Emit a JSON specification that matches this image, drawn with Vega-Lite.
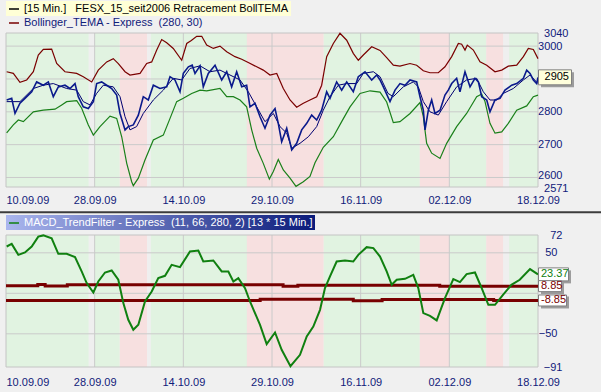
{
  "$schema": "https://vega.github.io/schema/vega-lite/v6.json",
  "width": 532,
  "height": 334,
  "autosize": {"type": "none"},
  "padding": {"left": 6, "top": 33, "right": 63, "bottom": 25},
  "background": "#F0F0F0",
  "config": {
    "font": "Liberation Sans",
    "view": {"stroke": null},
    "axis": {"labelFont": "Liberation Sans", "labelFontSize": 11, "labelColor": "#10207A", "domain": false, "ticks": false, "grid": false, "labelOverlap": false, "labelBound": false, "labelFlush": false}
  },
  "datasets": {
    "bands": [
      {"t0": 0, "t1": 11.2, "s": "up"}, {"t0": 11.2, "t1": 12.0, "s": "flat"}, {"t0": 12.0, "t1": 15.4, "s": "up"},
      {"t0": 15.4, "t1": 19.1, "s": "down"}, {"t0": 19.1, "t1": 19.6, "s": "flat"}, {"t0": 19.6, "t1": 32.6, "s": "up"},
      {"t0": 32.6, "t1": 43.0, "s": "down"}, {"t0": 43.0, "t1": 56.0, "s": "up"}, {"t0": 56.0, "t1": 60.0, "s": "down"},
      {"t0": 60.0, "t1": 65.0, "s": "up"}, {"t0": 65.0, "t1": 67.3, "s": "down"}, {"t0": 67.3, "t1": 68.1, "s": "flat"},
      {"t0": 68.1, "t1": 72, "s": "up"}
    ],
    "vgrid": [{"t": 12}, {"t": 24}, {"t": 36}, {"t": 48}, {"t": 60}],
    "hgt": [{"v": 2600}, {"v": 2700}, {"v": 2800}, {"v": 2900}, {"v": 3000}],
    "hgb": [{"v": 50}, {"v": 0}, {"v": -50}],
    "upper": [
      {"t":0.09,"v":2922},{"t":0.99,"v":2917},{"t":1.89,"v":2890},{"t":2.8,"v":2897},{"t":3.7,"v":2922},{"t":4.37,"v":2973},{"t":5.05,"v":2990},{"t":6.18,"v":2991},{"t":6.86,"v":2947},{"t":7.98,"v":2922},{"t":9.57,"v":2917},{"t":10.46,"v":2907},{"t":11.6,"v":2891},{"t":12.49,"v":2927},{"t":13.63,"v":2952},{"t":14.52,"v":2962},{"t":15.2,"v":2947},{"t":16.11,"v":2922},{"t":16.78,"v":2912},{"t":18.14,"v":2917},{"t":19.04,"v":2947},{"t":19.72,"v":2952},{"t":20.4,"v":2988},{"t":21.07,"v":3020},{"t":21.75,"v":3010},{"t":22.64,"v":2993},{"t":23.78,"v":2957},{"t":24.46,"v":3008},{"t":25.08,"v":3017},{"t":25.81,"v":3030},{"t":26.49,"v":3030},{"t":27.16,"v":3003},{"t":28.06,"v":2993},{"t":28.96,"v":3000},{"t":29.87,"v":2983},{"t":30.99,"v":2968},{"t":31.9,"v":2960},{"t":32.79,"v":2950},{"t":33.93,"v":2937},{"t":34.82,"v":2927},{"t":35.73,"v":2912},{"t":36.64,"v":2917},{"t":37.53,"v":2871},{"t":38.44,"v":2836},{"t":39.34,"v":2814},{"t":40.24,"v":2826},{"t":41.14,"v":2836},{"t":42.05,"v":2846},{"t":42.72,"v":2881},{"t":43.4,"v":2968},{"t":44.3,"v":3008},{"t":45.2,"v":3039},{"t":46.11,"v":3018},{"t":47.0,"v":2978},{"t":47.68,"v":2957},{"t":48.36,"v":2973},{"t":49.49,"v":2998},{"t":50.62,"v":2987},{"t":51.52,"v":2965},{"t":52.42,"v":2942},{"t":53.32,"v":2939},{"t":54.68,"v":2947},{"t":55.58,"v":2942},{"t":56.48,"v":2925},{"t":57.38,"v":2919},{"t":58.51,"v":2919},{"t":59.41,"v":2937},{"t":60.32,"v":2968},{"t":61.22,"v":3008},{"t":61.67,"v":3006},{"t":62.12,"v":2988},{"t":62.43,"v":3003},{"t":63.25,"v":2988},{"t":64.15,"v":2952},{"t":65.06,"v":2942},{"t":66.18,"v":2922},{"t":67.09,"v":2927},{"t":67.98,"v":2939},{"t":69.12,"v":2942},{"t":70.02,"v":2968},{"t":70.69,"v":2993},{"t":71.37,"v":2990},{"t":72,"v":2962}
    ],
    "lower": [
      {"t":0.09,"v":2736},{"t":0.99,"v":2760},{"t":1.67,"v":2775},{"t":2.35,"v":2770},{"t":3.7,"v":2800},{"t":5.05,"v":2805},{"t":6.63,"v":2808},{"t":7.54,"v":2821},{"t":8.21,"v":2831},{"t":9.57,"v":2834},{"t":10.24,"v":2811},{"t":11.14,"v":2760},{"t":11.82,"v":2729},{"t":12.72,"v":2755},{"t":14.08,"v":2787},{"t":14.98,"v":2780},{"t":15.66,"v":2724},{"t":16.34,"v":2643},{"t":17.01,"v":2587},{"t":17.23,"v":2575},{"t":17.91,"v":2598},{"t":18.81,"v":2653},{"t":19.94,"v":2714},{"t":21.29,"v":2729},{"t":22.2,"v":2780},{"t":23.1,"v":2831},{"t":24.0,"v":2841},{"t":25.13,"v":2856},{"t":26.26,"v":2866},{"t":27.16,"v":2864},{"t":28.96,"v":2871},{"t":29.87,"v":2846},{"t":30.77,"v":2846},{"t":31.67,"v":2836},{"t":32.57,"v":2815},{"t":33.25,"v":2745},{"t":33.93,"v":2689},{"t":34.82,"v":2643},{"t":35.64,"v":2595},{"t":36.18,"v":2618},{"t":36.85,"v":2655},{"t":37.53,"v":2623},{"t":38.44,"v":2598},{"t":39.25,"v":2573},{"t":40.24,"v":2587},{"t":41.14,"v":2603},{"t":41.82,"v":2645},{"t":42.94,"v":2692},{"t":44.3,"v":2724},{"t":45.43,"v":2770},{"t":46.56,"v":2815},{"t":47.91,"v":2856},{"t":49.27,"v":2864},{"t":50.62,"v":2860},{"t":51.52,"v":2830},{"t":52.42,"v":2767},{"t":53.32,"v":2770},{"t":54.68,"v":2795},{"t":56.03,"v":2828},{"t":56.48,"v":2785},{"t":56.93,"v":2704},{"t":57.61,"v":2674},{"t":58.74,"v":2658},{"t":59.64,"v":2704},{"t":60.99,"v":2755},{"t":62.34,"v":2795},{"t":63.7,"v":2846},{"t":64.38,"v":2854},{"t":64.83,"v":2831},{"t":65.5,"v":2765},{"t":66.18,"v":2735},{"t":67.09,"v":2739},{"t":67.98,"v":2765},{"t":69.12,"v":2805},{"t":70.47,"v":2818},{"t":71.37,"v":2846},{"t":72,"v":2851}
    ],
    "price": [
      {"t":0.09,"v":2836},{"t":0.77,"v":2841},{"t":1.22,"v":2795},{"t":1.89,"v":2826},{"t":2.57,"v":2841},{"t":3.48,"v":2861},{"t":4.15,"v":2891},{"t":5.05,"v":2881},{"t":5.73,"v":2891},{"t":6.4,"v":2846},{"t":7.08,"v":2876},{"t":7.98,"v":2881},{"t":8.66,"v":2871},{"t":9.34,"v":2886},{"t":9.78,"v":2846},{"t":10.46,"v":2815},{"t":11.14,"v":2810},{"t":11.82,"v":2831},{"t":12.27,"v":2886},{"t":12.95,"v":2891},{"t":13.63,"v":2881},{"t":14.3,"v":2871},{"t":14.98,"v":2851},{"t":15.43,"v":2795},{"t":16.11,"v":2745},{"t":16.55,"v":2755},{"t":17.23,"v":2760},{"t":17.91,"v":2790},{"t":18.58,"v":2846},{"t":19.26,"v":2836},{"t":19.94,"v":2881},{"t":20.84,"v":2871},{"t":21.75,"v":2876},{"t":22.2,"v":2907},{"t":22.87,"v":2897},{"t":23.55,"v":2861},{"t":24.0,"v":2917},{"t":24.68,"v":2937},{"t":25.2,"v":2942},{"t":25.58,"v":2917},{"t":26.26,"v":2940},{"t":26.7,"v":2876},{"t":27.38,"v":2917},{"t":28.29,"v":2942},{"t":29.19,"v":2897},{"t":29.87,"v":2922},{"t":30.54,"v":2876},{"t":31.22,"v":2922},{"t":31.9,"v":2876},{"t":32.57,"v":2881},{"t":33.02,"v":2815},{"t":33.7,"v":2826},{"t":34.38,"v":2785},{"t":35.05,"v":2750},{"t":35.73,"v":2790},{"t":36.41,"v":2810},{"t":36.85,"v":2765},{"t":37.31,"v":2709},{"t":37.99,"v":2750},{"t":38.67,"v":2684},{"t":39.34,"v":2704},{"t":40.02,"v":2745},{"t":40.7,"v":2765},{"t":41.37,"v":2790},{"t":42.05,"v":2775},{"t":42.72,"v":2805},{"t":43.4,"v":2861},{"t":43.85,"v":2841},{"t":44.75,"v":2891},{"t":45.43,"v":2866},{"t":46.11,"v":2891},{"t":47.0,"v":2861},{"t":47.68,"v":2907},{"t":48.59,"v":2922},{"t":49.49,"v":2897},{"t":50.17,"v":2912},{"t":50.62,"v":2897},{"t":51.07,"v":2876},{"t":51.97,"v":2831},{"t":52.65,"v":2866},{"t":53.32,"v":2886},{"t":54.0,"v":2881},{"t":54.68,"v":2897},{"t":55.58,"v":2891},{"t":56.03,"v":2846},{"t":56.48,"v":2805},{"t":56.71,"v":2745},{"t":57.16,"v":2805},{"t":57.61,"v":2836},{"t":58.06,"v":2795},{"t":58.74,"v":2805},{"t":59.41,"v":2851},{"t":59.86,"v":2866},{"t":60.32,"v":2886},{"t":60.99,"v":2902},{"t":61.44,"v":2861},{"t":62.12,"v":2922},{"t":62.8,"v":2876},{"t":63.47,"v":2902},{"t":63.93,"v":2891},{"t":64.38,"v":2846},{"t":65.06,"v":2836},{"t":65.5,"v":2800},{"t":66.18,"v":2836},{"t":66.86,"v":2841},{"t":67.53,"v":2866},{"t":68.44,"v":2881},{"t":69.12,"v":2886},{"t":70.02,"v":2902},{"t":70.47,"v":2927},{"t":70.92,"v":2917},{"t":71.37,"v":2897},{"t":71.82,"v":2886},{"t":72,"v":2905}
    ],
    "tema": [
      {"t":0.09,"v":2831},{"t":1.89,"v":2831},{"t":3.7,"v":2871},{"t":5.05,"v":2881},{"t":6.4,"v":2886},{"t":8.21,"v":2871},{"t":9.57,"v":2866},{"t":10.46,"v":2831},{"t":11.37,"v":2821},{"t":12.27,"v":2856},{"t":13.17,"v":2881},{"t":14.52,"v":2876},{"t":15.43,"v":2846},{"t":16.11,"v":2785},{"t":16.78,"v":2745},{"t":17.68,"v":2755},{"t":18.58,"v":2795},{"t":19.94,"v":2836},{"t":21.29,"v":2866},{"t":22.64,"v":2902},{"t":23.78,"v":2897},{"t":24.9,"v":2932},{"t":26.26,"v":2940},{"t":27.61,"v":2922},{"t":28.96,"v":2927},{"t":30.32,"v":2912},{"t":31.67,"v":2897},{"t":32.79,"v":2861},{"t":33.93,"v":2815},{"t":35.05,"v":2770},{"t":36.18,"v":2795},{"t":37.08,"v":2755},{"t":37.99,"v":2735},{"t":38.67,"v":2689},{"t":39.79,"v":2704},{"t":40.92,"v":2724},{"t":42.05,"v":2755},{"t":42.94,"v":2805},{"t":43.85,"v":2846},{"t":44.98,"v":2881},{"t":46.11,"v":2886},{"t":47.46,"v":2886},{"t":48.36,"v":2917},{"t":49.72,"v":2922},{"t":50.62,"v":2907},{"t":51.7,"v":2856},{"t":52.42,"v":2846},{"t":53.77,"v":2876},{"t":55.12,"v":2891},{"t":55.8,"v":2876},{"t":56.48,"v":2831},{"t":57.38,"v":2800},{"t":58.51,"v":2790},{"t":59.64,"v":2831},{"t":60.99,"v":2876},{"t":62.34,"v":2897},{"t":63.7,"v":2902},{"t":64.6,"v":2861},{"t":65.5,"v":2836},{"t":66.4,"v":2836},{"t":67.3,"v":2856},{"t":68.66,"v":2871},{"t":70.02,"v":2897},{"t":70.92,"v":2912},{"t":72,"v":2886}
    ],
    "macd": [
      {"t":0.09,"v":57.8},{"t":0.77,"v":61},{"t":1.67,"v":47.5},{"t":2.57,"v":50.4},{"t":3.48,"v":57.8},{"t":4.37,"v":70},{"t":5.05,"v":71.5},{"t":6.18,"v":68},{"t":7.08,"v":48.8},{"t":8.21,"v":48.8},{"t":9.34,"v":44.7},{"t":10.24,"v":27},{"t":10.92,"v":12.6},{"t":11.82,"v":1},{"t":12.49,"v":14.6},{"t":13.4,"v":25.7},{"t":14.3,"v":28.2},{"t":15.2,"v":16.7},{"t":15.88,"v":-12.1},{"t":16.55,"v":-32.7},{"t":17.23,"v":-45},{"t":17.91,"v":-38.9},{"t":18.81,"v":-10.1},{"t":19.72,"v":2.2},{"t":20.61,"v":18.8},{"t":21.52,"v":21.6},{"t":22.42,"v":35.2},{"t":23.55,"v":32.3},{"t":24.9,"v":51.6},{"t":26.03,"v":52.9},{"t":26.7,"v":39.3},{"t":28.06,"v":40.5},{"t":29.19,"v":27},{"t":30.09,"v":27},{"t":30.77,"v":14.6},{"t":31.44,"v":18.8},{"t":32.35,"v":6.4},{"t":33.02,"v":-10.1},{"t":34.38,"v":-38.9},{"t":35.28,"v":-62.7},{"t":36.41,"v":-48.4},{"t":37.31,"v":-69.8},{"t":38.5,"v":-90},{"t":39.79,"v":-76},{"t":40.7,"v":-53.3},{"t":41.59,"v":-41},{"t":42.5,"v":-20.4},{"t":43.17,"v":6.4},{"t":43.85,"v":20.8},{"t":44.75,"v":39.3},{"t":45.88,"v":40.5},{"t":47.0,"v":39.3},{"t":47.68,"v":47.5},{"t":48.81,"v":57},{"t":49.72,"v":55.8},{"t":50.62,"v":45.4},{"t":51.52,"v":27},{"t":52.2,"v":10.5},{"t":52.88,"v":16.7},{"t":54.0,"v":17.9},{"t":55.12,"v":22.8},{"t":55.8,"v":6.4},{"t":56.48,"v":-24.5},{"t":57.38,"v":-27.8},{"t":58.29,"v":-33.5},{"t":59.41,"v":-5.9},{"t":60.54,"v":17.5},{"t":61.44,"v":13.8},{"t":62.34,"v":23.7},{"t":63.47,"v":25.7},{"t":64.38,"v":6.4},{"t":65.28,"v":-14.2},{"t":66.18,"v":-14.2},{"t":67.26,"v":-1.9},{"t":68.4,"v":10.5},{"t":69.53,"v":16.7},{"t":70.92,"v":29.9},{"t":72,"v":23.37}
    ],
    "thrU": [
      {"t":0,"v":9.3},{"t":4.3,"v":10.8},{"t":5.3,"v":9.0},{"t":8.3,"v":10.6},{"t":37.5,"v":8.6},{"t":39.5,"v":10.1},{"t":58.7,"v":8.85},{"t":72,"v":8.85}
    ],
    "thrL": [
      {"t":0,"v":-8.85},{"t":34.4,"v":-7.4},{"t":47.0,"v":-9.3},{"t":50.9,"v":-7.6},{"t":66.0,"v":-8.85},{"t":72,"v":-8.85}
    ]
  },
  "layer": [
    {
      "layer": [
        {
          "data": {"name": "bands"},
          "mark": "rect",
          "encoding": {
            "x": {"field": "t0", "type": "quantitative", "scale": {"domain": [0, 72], "nice": false, "zero": false},
              "axis": {"orient": "bottom", "offset": -180, "title": null, "values": [0, 12, 24, 36, 48, 60, 72],
                "labelExpr": "['10.09.09','28.09.09','14.10.09','29.10.09','16.11.09','02.12.09','18.12.09'][round(datum.value/12)]",
                "labelAlign": {"condition": {"test": "datum.value == 0", "value": "left"}, "value": "center"},
                "labelPadding": 7}},
            "x2": {"field": "t1"},
            "y": {"datum": 2571, "type": "quantitative", "scale": {"domain": [2571, 3040], "range": [154, 0], "nice": false, "zero": false},
              "axis": {"orient": "right", "title": null, "format": "d", "values": [3040, 3000, 2800, 2700, 2600, 2571], "labelAlign": "right", "labelBaseline": "middle",
                "labelOffset": {"condition": [{"test": "datum.value == 2571", "value": 1.5}, {"test": "datum.value == 2600", "value": -2}], "value": 0},
                "labelPadding": {"condition": {"test": "datum.value == 3040 || datum.value == 2571", "value": 30}, "value": 24}}},
            "y2": {"datum": 3040},
            "fill": {"field": "s", "type": "nominal", "scale": {"domain": ["up", "down", "flat"], "range": ["#E1F3E1", "#F7E0E0", "#EFEFEF"]}, "legend": null}
          }
        },
        {
          "data": {"name": "vgrid"},
          "mark": {"type": "rule", "color": "#CACACA", "strokeWidth": 1},
          "encoding": {"x": {"field": "t", "type": "quantitative", "axis": {"title": null}}, "y": {"datum": 2571, "type": "quantitative", "axis": {"title": null}}, "y2": {"datum": 3040}}
        },
        {
          "data": {"name": "hgt"},
          "mark": {"type": "rule", "color": "#CACACA", "strokeWidth": 1},
          "encoding": {"x": {"datum": 0, "type": "quantitative", "axis": {"title": null}}, "x2": {"datum": 72}, "y": {"field": "v", "type": "quantitative", "axis": {"title": null}}}
        },
        {
          "data": {"values": [{}]},
          "mark": {"type": "rect", "fill": "transparent", "stroke": "#C4C4C4", "strokeWidth": 1},
          "encoding": {"x": {"datum": 0, "type": "quantitative", "axis": {"title": null}}, "x2": {"datum": 72}, "y": {"datum": 2571, "type": "quantitative", "axis": {"title": null}}, "y2": {"datum": 3040}}
        },
        {
          "data": {"name": "upper"},
          "mark": {"type": "line", "strokeWidth": 1.2},
          "encoding": {
            "x": {"field": "t", "type": "quantitative", "axis": {"title": null}},
            "y": {"field": "v", "type": "quantitative", "axis": {"title": null}},
            "stroke": {"datum": "Bollinger_TEMA - Express\u00a0\u00a0(280, 30)", "type": "nominal", "scale": {"range": ["#7A0000"]},
              "legend": {"title": null, "orient": "none", "legendX": 0, "legendY": -18, "padding": 2, "labelColor": "#10207A", "labelFontSize": 11, "labelLimit": 500, "symbolType": "stroke", "symbolSize": 100, "symbolStrokeWidth": 1.5}}
          }
        },
        {
          "data": {"name": "lower"},
          "mark": {"type": "line", "strokeWidth": 1.2, "color": "#1A801A"},
          "encoding": {"x": {"field": "t", "type": "quantitative", "axis": {"title": null}}, "y": {"field": "v", "type": "quantitative", "axis": {"title": null}}}
        },
        {
          "data": {"name": "tema"},
          "mark": {"type": "line", "strokeWidth": 1, "color": "#000070"},
          "encoding": {"x": {"field": "t", "type": "quantitative", "axis": {"title": null}}, "y": {"field": "v", "type": "quantitative", "axis": {"title": null}}}
        },
        {
          "data": {"name": "price"},
          "mark": {"type": "line", "strokeWidth": 1.6, "color": "#0A1A8C"},
          "encoding": {"x": {"field": "t", "type": "quantitative", "axis": {"title": null}}, "y": {"field": "v", "type": "quantitative", "axis": {"title": null}}}
        },
        {
          "data": {"values": []},
          "mark": {"type": "line"},
          "encoding": {
            "x": {"field": "t", "type": "quantitative", "axis": {"title": null}},
            "y": {"field": "v", "type": "quantitative", "axis": {"title": null}},
            "stroke": {"datum": "[15 Min.]\u00a0\u00a0\u00a0FESX_15_seit2006 Retracement BollTEMA", "type": "nominal", "scale": {"range": ["#000000"]},
              "legend": {"title": null, "orient": "none", "legendX": 0, "legendY": -32, "padding": 2, "fillColor": "#FFFFD6", "labelColor": "#000000", "labelFontSize": 11, "labelLimit": 500, "symbolType": "stroke", "symbolSize": 100, "symbolStrokeWidth": 1.5}}
          }
        },
        {
          "data": {"values": [{"v": 2905, "label": "2905"}]},
          "layer": [
            {"mark": {"type": "rect", "color": "#9C9C9C", "xOffset": 3, "x2Offset": 36, "yOffset": -5, "y2Offset": 10},
             "encoding": {"x": {"datum": 72, "type": "quantitative", "axis": {"title": null}}, "x2": {"datum": 72}, "y": {"field": "v", "type": "quantitative", "axis": {"title": null}}, "y2": {"field": "v"}}},
            {"mark": {"type": "rect", "fill": "#FFFFDC", "stroke": "#808080", "strokeWidth": 1, "xOffset": 0.5, "x2Offset": 33.5, "yOffset": -7.5, "y2Offset": 7.5},
             "encoding": {"x": {"datum": 72, "type": "quantitative", "axis": {"title": null}}, "x2": {"datum": 72}, "y": {"field": "v", "type": "quantitative", "axis": {"title": null}}, "y2": {"field": "v"}}},
            {"mark": {"type": "text", "align": "right", "baseline": "middle", "dx": 31, "fontSize": 11, "color": "#000000"},
             "encoding": {"x": {"datum": 72, "type": "quantitative", "axis": {"title": null}}, "y": {"field": "v", "type": "quantitative", "axis": {"title": null}}, "text": {"field": "label"}}}
          ]
        }
      ],
      "resolve": {"scale": {"stroke": "independent"}}
    },
    {
      "layer": [
        {
          "data": {"name": "bands"},
          "mark": "rect",
          "encoding": {
            "x": {"field": "t0", "type": "quantitative", "scale": {"domain": [0, 72], "nice": false, "zero": false},
              "axis": {"orient": "bottom", "title": null, "values": [0, 12, 24, 36, 48, 60, 72],
                "labelExpr": "['10.09.09','28.09.09','14.10.09','29.10.09','16.11.09','02.12.09','18.12.09'][round(datum.value/12)]",
                "labelAlign": {"condition": {"test": "datum.value == 0", "value": "left"}, "value": "center"},
                "labelPadding": 9}},
            "x2": {"field": "t1"},
            "y": {"datum": -91, "type": "quantitative", "scale": {"domain": [-91, 72], "range": [334, 202], "nice": false, "zero": false},
              "axis": {"orient": "right", "title": null, "format": "d", "values": [72, 50, -50, -91], "labelAlign": "right", "labelBaseline": "middle",
                "labelPadding": {"condition": {"test": "datum.value == 72 || datum.value == -91", "value": 24}, "value": 19}}},
            "y2": {"datum": 72},
            "fill": {"field": "s", "type": "nominal", "scale": {"domain": ["up", "down", "flat"], "range": ["#E1F3E1", "#F7E0E0", "#EFEFEF"]}, "legend": null}
          }
        },
        {
          "data": {"name": "vgrid"},
          "mark": {"type": "rule", "color": "#CACACA", "strokeWidth": 1},
          "encoding": {"x": {"field": "t", "type": "quantitative", "axis": {"title": null}}, "y": {"datum": -91, "type": "quantitative", "axis": {"title": null}}, "y2": {"datum": 72}}
        },
        {
          "data": {"name": "hgb"},
          "mark": {"type": "rule", "color": "#CACACA", "strokeWidth": 1},
          "encoding": {"x": {"datum": 0, "type": "quantitative", "axis": {"title": null}}, "x2": {"datum": 72}, "y": {"field": "v", "type": "quantitative", "axis": {"title": null}}}
        },
        {
          "data": {"values": [{}]},
          "mark": {"type": "rect", "fill": "transparent", "stroke": "#C4C4C4", "strokeWidth": 1},
          "encoding": {"x": {"datum": 0, "type": "quantitative", "axis": {"title": null}}, "x2": {"datum": 72}, "y": {"datum": -91, "type": "quantitative", "axis": {"title": null}}, "y2": {"datum": 72}}
        },
        {
          "data": {"values": [{}]},
          "mark": {"type": "rule", "color": "#3C3C3C", "strokeWidth": 2},
          "encoding": {"x": {"datum": -2, "type": "quantitative", "axis": {"title": null}}, "x2": {"datum": 82}, "y": {"datum": 100, "type": "quantitative", "axis": {"title": null}}}
        },
        {
          "data": {"name": "thrU"},
          "mark": {"type": "line", "strokeWidth": 3, "color": "#780000", "interpolate": "step-after"},
          "encoding": {"x": {"field": "t", "type": "quantitative", "axis": {"title": null}}, "y": {"field": "v", "type": "quantitative", "axis": {"title": null}}}
        },
        {
          "data": {"name": "thrL"},
          "mark": {"type": "line", "strokeWidth": 3, "color": "#780000", "interpolate": "step-after"},
          "encoding": {"x": {"field": "t", "type": "quantitative", "axis": {"title": null}}, "y": {"field": "v", "type": "quantitative", "axis": {"title": null}}}
        },
        {
          "data": {"name": "macd"},
          "mark": {"type": "line", "strokeWidth": 2},
          "encoding": {
            "x": {"field": "t", "type": "quantitative", "axis": {"title": null}},
            "y": {"field": "v", "type": "quantitative", "axis": {"title": null}},
            "stroke": {"datum": "MACD_TrendFilter - Express\u00a0\u00a0(11, 66, 280, 2) [13 * 15 Min.]", "type": "nominal", "scale": {"range": ["#108010"]},
              "legend": {"title": null, "orient": "none", "legendX": 0, "legendY": 182, "padding": 2,
                "fillColor": {"expr": "{gradient: 'linear', x1: 0, y1: 0, x2: 1, y2: 0, stops: [{offset: 0, color: '#AAB6EE'}, {offset: 1, color: '#0A1A7A'}]}"},
                "labelColor": "#FFFFFF", "labelFontSize": 11, "labelLimit": 500, "symbolType": "stroke", "symbolSize": 100, "symbolStrokeWidth": 1.5}}
          }
        },
        {
          "data": {"values": [{"v": 23.37, "label": "23.37", "k": "m"}, {"v": 8.85, "label": "8.85", "k": "u"}, {"v": -8.85, "label": "-8.85", "k": "l"}]},
          "layer": [
            {"transform": [{"filter": "datum.k == 'm'"}],
             "mark": {"type": "rect", "color": "#9C9C9C", "xOffset": 3, "x2Offset": 33, "yOffset": -4, "y2Offset": 9},
             "encoding": {"x": {"datum": 72, "type": "quantitative", "axis": {"title": null}}, "x2": {"datum": 72}, "y": {"field": "v", "type": "quantitative", "axis": {"title": null}}, "y2": {"field": "v"}}},
            {"transform": [{"filter": "datum.k == 'm'"}],
             "mark": {"type": "rect", "fill": "#FFFFFF", "stroke": "#808080", "strokeWidth": 1, "xOffset": 0.5, "x2Offset": 30.5, "yOffset": -6.5, "y2Offset": 6.5},
             "encoding": {"x": {"datum": 72, "type": "quantitative", "axis": {"title": null}}, "x2": {"datum": 72}, "y": {"field": "v", "type": "quantitative", "axis": {"title": null}}, "y2": {"field": "v"}}},
            {"transform": [{"filter": "datum.k == 'u'"}],
             "mark": {"type": "rect", "color": "#9C9C9C", "xOffset": 3, "x2Offset": 26, "yOffset": -4, "y2Offset": 8},
             "encoding": {"x": {"datum": 72, "type": "quantitative", "axis": {"title": null}}, "x2": {"datum": 72}, "y": {"field": "v", "type": "quantitative", "axis": {"title": null}}, "y2": {"field": "v"}}},
            {"transform": [{"filter": "datum.k == 'u'"}],
             "mark": {"type": "rect", "fill": "#FFFFFF", "stroke": "#808080", "strokeWidth": 1, "xOffset": 0.5, "x2Offset": 23.5, "yOffset": -5.5, "y2Offset": 5.5},
             "encoding": {"x": {"datum": 72, "type": "quantitative", "axis": {"title": null}}, "x2": {"datum": 72}, "y": {"field": "v", "type": "quantitative", "axis": {"title": null}}, "y2": {"field": "v"}}},
            {"transform": [{"filter": "datum.k == 'l'"}],
             "mark": {"type": "rect", "color": "#9C9C9C", "xOffset": 3, "x2Offset": 31, "yOffset": -4, "y2Offset": 8},
             "encoding": {"x": {"datum": 72, "type": "quantitative", "axis": {"title": null}}, "x2": {"datum": 72}, "y": {"field": "v", "type": "quantitative", "axis": {"title": null}}, "y2": {"field": "v"}}},
            {"transform": [{"filter": "datum.k == 'l'"}],
             "mark": {"type": "rect", "fill": "#FFFFFF", "stroke": "#808080", "strokeWidth": 1, "xOffset": 0.5, "x2Offset": 28.5, "yOffset": -5.5, "y2Offset": 5.5},
             "encoding": {"x": {"datum": 72, "type": "quantitative", "axis": {"title": null}}, "x2": {"datum": 72}, "y": {"field": "v", "type": "quantitative", "axis": {"title": null}}, "y2": {"field": "v"}}},
            {"mark": {"type": "text", "align": "left", "baseline": "middle", "dx": 3, "fontSize": 11},
             "encoding": {"x": {"datum": 72, "type": "quantitative", "axis": {"title": null}}, "y": {"field": "v", "type": "quantitative", "axis": {"title": null}}, "text": {"field": "label"},
               "color": {"condition": {"test": "datum.k == 'm'", "value": "#108010"}, "value": "#780000"}}}
          ]
        }
      ],
      "resolve": {"scale": {"stroke": "independent"}}
    }
  ],
  "resolve": {"scale": {"y": "independent", "stroke": "independent"}, "axis": {"x": "independent", "y": "independent"}}
}
